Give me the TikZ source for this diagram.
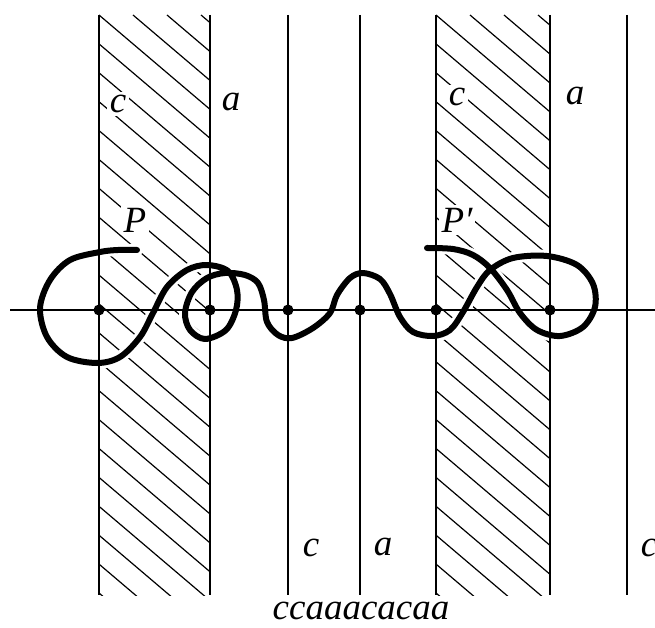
\documentclass[tikz,border=0pt]{standalone}
\usepackage{fontspec}
\setmainfont{Liberation Serif}
\newcommand\mycurve[1]{\draw[#1] plot[smooth, tension=0.55] coordinates {
(137,250) (118,250) (100,252) (70,260) (50,280) (40,308) (47,337) (67,357) (97,363) (120,357) (140,337) (153,313) (167,287) (187,270) (207,265) (228,271) (237,290) (236,310) (226,330) (205,339) (190,330) (185,313) (192,292) (207,278) (225,273) (245,275) (258,283) (264,300) (267,322) (278,335) (292,338) (313,328) (330,313) (337,295) (350,278) (363,273) (380,279) (390,294) (400,317) (413,332) (433,336) (450,330) (463,312) (477,287) (490,270) (513,258) (547,256) (577,265) (593,284) (595,307) (583,327) (560,336) (537,330) (520,313) (507,290) (490,268) (473,255) (453,249) (427,248)};}
\begin{document}
\begin{tikzpicture}[x=1pt,y=-1pt,
  thinline/.style={line width=1.8pt},
  hatchline/.style={line width=1.2pt},
  axisline/.style={line width=1.6pt},
  curvestroke/.style={line width=6pt, line cap=round, line join=round},
  lbl/.style={font=\itshape\fontsize{37}{40}\selectfont, inner sep=0pt},
  wlbl/.style={lbl, fill=white, inner sep=3pt},
  dot/.style={circle, fill=black, inner sep=0pt, minimum size=11pt}]
\useasboundingbox (0,0) rectangle (655,628);
% hatched strips
\begin{scope}
  \clip (99,15) rectangle (210,595);
  \foreach \i in {-22,...,4} \draw[hatchline] (99+\i*34,15) -- ++(700,595);
  \mycurve{line width=12pt, white, line cap=round}
\end{scope}
\begin{scope}
  \clip (436,15) rectangle (550,595);
  \foreach \i in {-22,...,4} \draw[hatchline] (436+\i*34,15) -- ++(700,595);
  \mycurve{line width=12pt, white, line cap=round}
\end{scope}
% labels inside strips
\node[wlbl] (c1) at (118,104) {c};
\node[wlbl] (c3) at (457,97) {c};
\node[wlbl] (P) at (135,220) {P};
\node[wlbl] (Pp) at (457,220) {P′};
% vertical lines
\foreach \x/\n in {99/v1,210/v2,288/v3,360/v4,436/v5,550/v6,627/v7}
  \draw[thinline] (\x,15) coordinate (\n top) -- (\x,595) coordinate (\n bot);
% axis
\coordinate (axL) at (10,310);
\coordinate (axR) at (655,310);
\draw[axisline] (axL) -- (axR);
% other labels
\node[lbl] (a1) at (231,102) {a};
\node[lbl] (a3) at (575,96) {a};
\node[lbl] (c5) at (311,548) {c};
\node[lbl] (a5) at (383,547) {a};
\node[lbl] (c6) at (649,548) {c};
\node[lbl] (word) at (361,611) {ccaaacacaa};
% curve
\mycurve{curvestroke}
% dots
\foreach \x/\n in {99/d1,210/d2,288/d3,360/d4,436/d5,550/d6}
  \node[dot] (\n) at (\x,310) {};
\end{tikzpicture}
\end{document}
